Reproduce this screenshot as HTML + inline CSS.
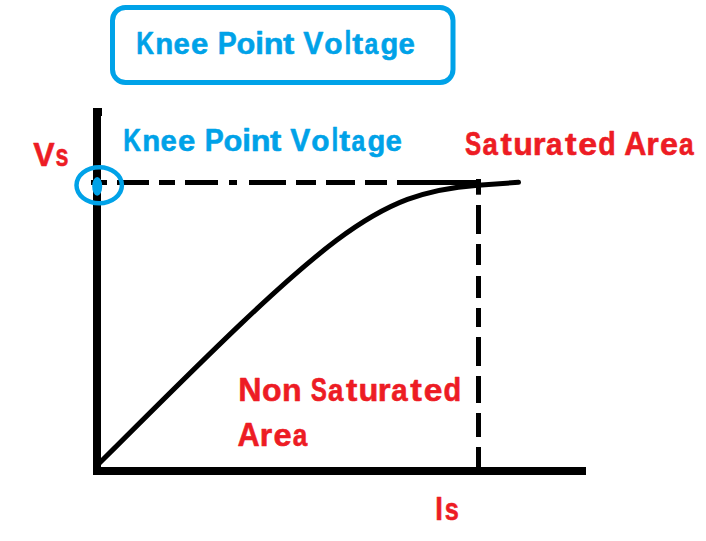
<!DOCTYPE html>
<html><head><meta charset="utf-8">
<style>
html,body{margin:0;padding:0;background:#fff;}
body{width:706px;height:541px;overflow:hidden;}
svg{display:block;}
text{font-family:"Liberation Sans", sans-serif;font-weight:bold;}
</style></head>
<body>
<svg width="706" height="541" viewBox="0 0 706 541">
<rect x="0" y="0" width="706" height="541" fill="#fff"/>
<!-- title box -->
<rect x="112.5" y="7.5" width="340.5" height="75" rx="13" ry="13" fill="none" stroke="#00a2e8" stroke-width="5"/>
<!-- curve -->
<path d="M97.5,465.1 L101,461.6 C329.37,233.23 374.23,192.75 478,185.2 L518.5,182.3" fill="none" stroke="#000" stroke-width="5" stroke-linecap="round"/>
<!-- axes -->
<rect x="93" y="108" width="8" height="367" fill="#000"/>
<rect x="93" y="108" width="9" height="8" fill="#000"/>
<rect x="93" y="467" width="493" height="8" fill="#000"/>
<!-- horizontal dash-dot line -->
<g fill="#000">
<rect x="91" y="180" width="16" height="5"/>
<rect x="117" y="180" width="32" height="5"/>
<rect x="159" y="180" width="16" height="5"/>
<rect x="185" y="180" width="33" height="5"/>
<rect x="229" y="180" width="8" height="5"/>
<rect x="249" y="180" width="37" height="5"/>
<rect x="296" y="180" width="20" height="5"/>
<rect x="326" y="180" width="29" height="5"/>
<rect x="365" y="180" width="22" height="5"/>
<rect x="397" y="180" width="81" height="5"/>
</g>
<!-- vertical dashed line -->
<g fill="#000">
<rect x="476" y="179" width="5" height="15.7"/>
<rect x="476" y="205" width="5" height="29"/>
<rect x="476" y="244" width="5" height="21"/>
<rect x="476" y="276" width="5" height="22"/>
<rect x="476" y="308" width="5" height="19"/>
<rect x="476" y="337" width="5" height="29"/>
<rect x="476" y="376" width="5" height="27"/>
<rect x="476" y="413" width="5" height="24"/>
<rect x="476" y="447" width="5" height="22"/>
</g>
<!-- knee marker -->
<ellipse cx="99.2" cy="185.2" rx="22.7" ry="18" fill="none" stroke="#00a2e8" stroke-width="4.5"/>
<ellipse cx="97.2" cy="186.4" rx="5" ry="9.4" fill="#00a2e8"/>
<!-- labels -->
<text x="136.26" y="54" font-size="32" fill="#00a2e8" stroke="#00a2e8" stroke-width="0.6" stroke-linejoin="round" textLength="17.77" lengthAdjust="spacingAndGlyphs" transform="matrix(1 0 0 0.9760 0 1.302)">K</text>
<text x="155.21" y="54" font-size="32" fill="#00a2e8" stroke="#00a2e8" stroke-width="0.6" stroke-linejoin="round" textLength="17.97" lengthAdjust="spacingAndGlyphs" transform="matrix(1 0 0 0.9190 0 4.396)">n</text>
<text x="173.61" y="54" font-size="32" fill="#00a2e8" stroke="#00a2e8" stroke-width="0.6" stroke-linejoin="round" textLength="16.32" lengthAdjust="spacingAndGlyphs" transform="matrix(1 0 0 0.9190 0 4.396)">e</text>
<text x="191.04" y="54" font-size="32" fill="#00a2e8" stroke="#00a2e8" stroke-width="0.6" stroke-linejoin="round" textLength="17.30" lengthAdjust="spacingAndGlyphs" transform="matrix(1 0 0 0.9190 0 4.396)">e</text>
<text x="217.72" y="54" font-size="32" fill="#00a2e8" stroke="#00a2e8" stroke-width="0.6" stroke-linejoin="round" textLength="18.97" lengthAdjust="spacingAndGlyphs" transform="matrix(1 0 0 0.9760 0 1.302)">P</text>
<text x="236.40" y="54" font-size="32" fill="#00a2e8" stroke="#00a2e8" stroke-width="0.6" stroke-linejoin="round" textLength="18.77" lengthAdjust="spacingAndGlyphs" transform="matrix(1 0 0 0.9190 0 4.396)">o</text>
<text x="255.14" y="54" font-size="32" fill="#00a2e8" stroke="#00a2e8" stroke-width="0.6" stroke-linejoin="round" textLength="8.67" lengthAdjust="spacingAndGlyphs" transform="matrix(1 0 0 0.9730 0 1.465)">i</text>
<text x="263.82" y="54" font-size="32" fill="#00a2e8" stroke="#00a2e8" stroke-width="0.6" stroke-linejoin="round" textLength="19.78" lengthAdjust="spacingAndGlyphs" transform="matrix(1 0 0 0.9190 0 4.396)">n</text>
<text x="283.06" y="54" font-size="32" fill="#00a2e8" stroke="#00a2e8" stroke-width="0.6" stroke-linejoin="round" textLength="11.31" lengthAdjust="spacingAndGlyphs" transform="matrix(1 0 0 0.9260 0 4.016)">t</text>
<text x="303.32" y="54" font-size="32" fill="#00a2e8" stroke="#00a2e8" stroke-width="0.6" stroke-linejoin="round" textLength="20.09" lengthAdjust="spacingAndGlyphs" transform="matrix(1 0 0 0.9760 0 1.302)">V</text>
<text x="324.35" y="54" font-size="32" fill="#00a2e8" stroke="#00a2e8" stroke-width="0.6" stroke-linejoin="round" textLength="18.23" lengthAdjust="spacingAndGlyphs" transform="matrix(1 0 0 0.9190 0 4.396)">o</text>
<text x="344.42" y="54" font-size="32" fill="#00a2e8" stroke="#00a2e8" stroke-width="0.6" stroke-linejoin="round" textLength="6.80" lengthAdjust="spacingAndGlyphs" transform="matrix(1 0 0 1.0200 0 -1.085)">l</text>
<text x="352.22" y="54" font-size="32" fill="#00a2e8" stroke="#00a2e8" stroke-width="0.6" stroke-linejoin="round" textLength="10.88" lengthAdjust="spacingAndGlyphs" transform="matrix(1 0 0 0.9260 0 4.016)">t</text>
<text x="364.62" y="54" font-size="32" fill="#00a2e8" stroke="#00a2e8" stroke-width="0.6" stroke-linejoin="round" textLength="13.74" lengthAdjust="spacingAndGlyphs" transform="matrix(1 0 0 0.9190 0 4.396)">a</text>
<text x="380.56" y="54" font-size="32" fill="#00a2e8" stroke="#00a2e8" stroke-width="0.6" stroke-linejoin="round" textLength="17.81" lengthAdjust="spacingAndGlyphs" transform="matrix(1 0 0 0.9000 0 5.427)">g</text>
<text x="398.61" y="54" font-size="32" fill="#00a2e8" stroke="#00a2e8" stroke-width="0.6" stroke-linejoin="round" textLength="16.32" lengthAdjust="spacingAndGlyphs" transform="matrix(1 0 0 0.9190 0 4.396)">e</text>
<text x="123.26" y="151" font-size="32" fill="#00a2e8" stroke="#00a2e8" stroke-width="0.6" stroke-linejoin="round" textLength="17.77" lengthAdjust="spacingAndGlyphs" transform="matrix(1 0 0 0.9760 0 3.630)">K</text>
<text x="142.21" y="151" font-size="32" fill="#00a2e8" stroke="#00a2e8" stroke-width="0.6" stroke-linejoin="round" textLength="17.97" lengthAdjust="spacingAndGlyphs" transform="matrix(1 0 0 0.9190 0 12.253)">n</text>
<text x="160.61" y="151" font-size="32" fill="#00a2e8" stroke="#00a2e8" stroke-width="0.6" stroke-linejoin="round" textLength="16.32" lengthAdjust="spacingAndGlyphs" transform="matrix(1 0 0 0.9190 0 12.253)">e</text>
<text x="178.04" y="151" font-size="32" fill="#00a2e8" stroke="#00a2e8" stroke-width="0.6" stroke-linejoin="round" textLength="17.30" lengthAdjust="spacingAndGlyphs" transform="matrix(1 0 0 0.9190 0 12.253)">e</text>
<text x="204.72" y="151" font-size="32" fill="#00a2e8" stroke="#00a2e8" stroke-width="0.6" stroke-linejoin="round" textLength="18.97" lengthAdjust="spacingAndGlyphs" transform="matrix(1 0 0 0.9760 0 3.630)">P</text>
<text x="223.40" y="151" font-size="32" fill="#00a2e8" stroke="#00a2e8" stroke-width="0.6" stroke-linejoin="round" textLength="18.77" lengthAdjust="spacingAndGlyphs" transform="matrix(1 0 0 0.9190 0 12.253)">o</text>
<text x="242.14" y="151" font-size="32" fill="#00a2e8" stroke="#00a2e8" stroke-width="0.6" stroke-linejoin="round" textLength="8.67" lengthAdjust="spacingAndGlyphs" transform="matrix(1 0 0 0.9730 0 4.084)">i</text>
<text x="250.82" y="151" font-size="32" fill="#00a2e8" stroke="#00a2e8" stroke-width="0.6" stroke-linejoin="round" textLength="19.78" lengthAdjust="spacingAndGlyphs" transform="matrix(1 0 0 0.9190 0 12.253)">n</text>
<text x="270.06" y="151" font-size="32" fill="#00a2e8" stroke="#00a2e8" stroke-width="0.6" stroke-linejoin="round" textLength="11.31" lengthAdjust="spacingAndGlyphs" transform="matrix(1 0 0 0.9260 0 11.194)">t</text>
<text x="290.32" y="151" font-size="32" fill="#00a2e8" stroke="#00a2e8" stroke-width="0.6" stroke-linejoin="round" textLength="20.09" lengthAdjust="spacingAndGlyphs" transform="matrix(1 0 0 0.9760 0 3.630)">V</text>
<text x="311.35" y="151" font-size="32" fill="#00a2e8" stroke="#00a2e8" stroke-width="0.6" stroke-linejoin="round" textLength="18.23" lengthAdjust="spacingAndGlyphs" transform="matrix(1 0 0 0.9190 0 12.253)">o</text>
<text x="331.42" y="151" font-size="32" fill="#00a2e8" stroke="#00a2e8" stroke-width="0.6" stroke-linejoin="round" textLength="6.80" lengthAdjust="spacingAndGlyphs" transform="matrix(1 0 0 1.0200 0 -3.025)">l</text>
<text x="339.22" y="151" font-size="32" fill="#00a2e8" stroke="#00a2e8" stroke-width="0.6" stroke-linejoin="round" textLength="10.88" lengthAdjust="spacingAndGlyphs" transform="matrix(1 0 0 0.9260 0 11.194)">t</text>
<text x="351.62" y="151" font-size="32" fill="#00a2e8" stroke="#00a2e8" stroke-width="0.6" stroke-linejoin="round" textLength="13.74" lengthAdjust="spacingAndGlyphs" transform="matrix(1 0 0 0.9190 0 12.253)">a</text>
<text x="367.56" y="151" font-size="32" fill="#00a2e8" stroke="#00a2e8" stroke-width="0.6" stroke-linejoin="round" textLength="17.81" lengthAdjust="spacingAndGlyphs" transform="matrix(1 0 0 0.9000 0 15.127)">g</text>
<text x="385.61" y="151" font-size="32" fill="#00a2e8" stroke="#00a2e8" stroke-width="0.6" stroke-linejoin="round" textLength="16.32" lengthAdjust="spacingAndGlyphs" transform="matrix(1 0 0 0.9190 0 12.253)">e</text>
<text x="465.06" y="155" font-size="33.4" fill="#ed1c24" stroke="#ed1c24" stroke-width="0.6" stroke-linejoin="round" textLength="16.16" lengthAdjust="spacingAndGlyphs" transform="matrix(1 0 0 0.9790 0 3.261)">S</text>
<text x="482.51" y="155" font-size="33.4" fill="#ed1c24" stroke="#ed1c24" stroke-width="0.6" stroke-linejoin="round" textLength="15.37" lengthAdjust="spacingAndGlyphs" transform="matrix(1 0 0 0.9430 0 8.850)">a</text>
<text x="500.56" y="155" font-size="33.4" fill="#ed1c24" stroke="#ed1c24" stroke-width="0.6" stroke-linejoin="round" textLength="11.34" lengthAdjust="spacingAndGlyphs" transform="matrix(1 0 0 0.9330 0 10.403)">t</text>
<text x="513.30" y="155" font-size="33.4" fill="#ed1c24" stroke="#ed1c24" stroke-width="0.6" stroke-linejoin="round" textLength="19.64" lengthAdjust="spacingAndGlyphs" transform="matrix(1 0 0 0.9430 0 8.850)">u</text>
<text x="532.66" y="155" font-size="33.4" fill="#ed1c24" stroke="#ed1c24" stroke-width="0.6" stroke-linejoin="round" textLength="12.80" lengthAdjust="spacingAndGlyphs" transform="matrix(1 0 0 0.9430 0 8.850)">r</text>
<text x="545.95" y="155" font-size="33.4" fill="#ed1c24" stroke="#ed1c24" stroke-width="0.6" stroke-linejoin="round" textLength="16.48" lengthAdjust="spacingAndGlyphs" transform="matrix(1 0 0 0.9430 0 8.850)">a</text>
<text x="564.88" y="155" font-size="33.4" fill="#ed1c24" stroke="#ed1c24" stroke-width="0.6" stroke-linejoin="round" textLength="11.60" lengthAdjust="spacingAndGlyphs" transform="matrix(1 0 0 0.9330 0 10.403)">t</text>
<text x="578.34" y="155" font-size="33.4" fill="#ed1c24" stroke="#ed1c24" stroke-width="0.6" stroke-linejoin="round" textLength="18.91" lengthAdjust="spacingAndGlyphs" transform="matrix(1 0 0 0.9430 0 8.850)">e</text>
<text x="598.18" y="155" font-size="33.4" fill="#ed1c24" stroke="#ed1c24" stroke-width="0.6" stroke-linejoin="round" textLength="17.48" lengthAdjust="spacingAndGlyphs" transform="matrix(1 0 0 1.0200 0 -3.105)">d</text>
<text x="624.14" y="155" font-size="33.4" fill="#ed1c24" stroke="#ed1c24" stroke-width="0.6" stroke-linejoin="round" textLength="22.17" lengthAdjust="spacingAndGlyphs" transform="matrix(1 0 0 0.9790 0 3.261)">A</text>
<text x="646.13" y="155" font-size="33.4" fill="#ed1c24" stroke="#ed1c24" stroke-width="0.6" stroke-linejoin="round" textLength="12.53" lengthAdjust="spacingAndGlyphs" transform="matrix(1 0 0 0.9430 0 8.850)">r</text>
<text x="660.11" y="155" font-size="33.4" fill="#ed1c24" stroke="#ed1c24" stroke-width="0.6" stroke-linejoin="round" textLength="17.97" lengthAdjust="spacingAndGlyphs" transform="matrix(1 0 0 0.9430 0 8.850)">e</text>
<text x="679.11" y="155" font-size="33.4" fill="#ed1c24" stroke="#ed1c24" stroke-width="0.6" stroke-linejoin="round" textLength="14.69" lengthAdjust="spacingAndGlyphs" transform="matrix(1 0 0 0.9430 0 8.850)">a</text>
<text x="238.26" y="401" font-size="33.4" fill="#ed1c24" stroke="#ed1c24" stroke-width="0.6" stroke-linejoin="round" textLength="23.27" lengthAdjust="spacingAndGlyphs" transform="matrix(1 0 0 0.9790 0 8.427)">N</text>
<text x="262.04" y="401" font-size="33.4" fill="#ed1c24" stroke="#ed1c24" stroke-width="0.6" stroke-linejoin="round" textLength="19.56" lengthAdjust="spacingAndGlyphs" transform="matrix(1 0 0 0.9430 0 22.872)">o</text>
<text x="282.03" y="401" font-size="33.4" fill="#ed1c24" stroke="#ed1c24" stroke-width="0.6" stroke-linejoin="round" textLength="19.66" lengthAdjust="spacingAndGlyphs" transform="matrix(1 0 0 0.9430 0 22.872)">n</text>
<text x="310.69" y="401" font-size="33.4" fill="#ed1c24" stroke="#ed1c24" stroke-width="0.6" stroke-linejoin="round" textLength="16.15" lengthAdjust="spacingAndGlyphs" transform="matrix(1 0 0 0.9790 0 8.427)">S</text>
<text x="327.90" y="401" font-size="33.4" fill="#ed1c24" stroke="#ed1c24" stroke-width="0.6" stroke-linejoin="round" textLength="15.39" lengthAdjust="spacingAndGlyphs" transform="matrix(1 0 0 0.9430 0 22.872)">a</text>
<text x="345.95" y="401" font-size="33.4" fill="#ed1c24" stroke="#ed1c24" stroke-width="0.6" stroke-linejoin="round" textLength="11.34" lengthAdjust="spacingAndGlyphs" transform="matrix(1 0 0 0.9330 0 26.885)">t</text>
<text x="358.38" y="401" font-size="33.4" fill="#ed1c24" stroke="#ed1c24" stroke-width="0.6" stroke-linejoin="round" textLength="19.86" lengthAdjust="spacingAndGlyphs" transform="matrix(1 0 0 0.9430 0 22.872)">u</text>
<text x="377.86" y="401" font-size="33.4" fill="#ed1c24" stroke="#ed1c24" stroke-width="0.6" stroke-linejoin="round" textLength="12.84" lengthAdjust="spacingAndGlyphs" transform="matrix(1 0 0 0.9430 0 22.872)">r</text>
<text x="391.36" y="401" font-size="33.4" fill="#ed1c24" stroke="#ed1c24" stroke-width="0.6" stroke-linejoin="round" textLength="16.42" lengthAdjust="spacingAndGlyphs" transform="matrix(1 0 0 0.9430 0 22.872)">a</text>
<text x="410.17" y="401" font-size="33.4" fill="#ed1c24" stroke="#ed1c24" stroke-width="0.6" stroke-linejoin="round" textLength="11.61" lengthAdjust="spacingAndGlyphs" transform="matrix(1 0 0 0.9330 0 26.885)">t</text>
<text x="423.73" y="401" font-size="33.4" fill="#ed1c24" stroke="#ed1c24" stroke-width="0.6" stroke-linejoin="round" textLength="18.69" lengthAdjust="spacingAndGlyphs" transform="matrix(1 0 0 0.9430 0 22.872)">e</text>
<text x="443.40" y="401" font-size="33.4" fill="#ed1c24" stroke="#ed1c24" stroke-width="0.6" stroke-linejoin="round" textLength="17.72" lengthAdjust="spacingAndGlyphs" transform="matrix(1 0 0 1.0200 0 -8.025)">d</text>
<text x="237.58" y="445.5" font-size="33.4" fill="#ed1c24" stroke="#ed1c24" stroke-width="0.6" stroke-linejoin="round" textLength="22.18" lengthAdjust="spacingAndGlyphs" transform="matrix(1 0 0 0.9790 0 9.361)">A</text>
<text x="259.79" y="445.5" font-size="33.4" fill="#ed1c24" stroke="#ed1c24" stroke-width="0.6" stroke-linejoin="round" textLength="12.44" lengthAdjust="spacingAndGlyphs" transform="matrix(1 0 0 0.9430 0 25.409)">r</text>
<text x="273.59" y="445.5" font-size="33.4" fill="#ed1c24" stroke="#ed1c24" stroke-width="0.6" stroke-linejoin="round" textLength="18.15" lengthAdjust="spacingAndGlyphs" transform="matrix(1 0 0 0.9430 0 25.409)">e</text>
<text x="292.75" y="445.5" font-size="33.4" fill="#ed1c24" stroke="#ed1c24" stroke-width="0.6" stroke-linejoin="round" textLength="14.56" lengthAdjust="spacingAndGlyphs" transform="matrix(1 0 0 0.9430 0 25.409)">a</text>
<text x="33.30" y="166" font-size="33.4" fill="#ed1c24" stroke="#ed1c24" stroke-width="0.6" stroke-linejoin="round" textLength="21.41" lengthAdjust="spacingAndGlyphs" transform="matrix(1 0 0 0.9790 0 3.492)">V</text>
<text x="55.54" y="166" font-size="33.4" fill="#ed1c24" stroke="#ed1c24" stroke-width="0.6" stroke-linejoin="round" textLength="13.00" lengthAdjust="spacingAndGlyphs" transform="matrix(1 0 0 0.9430 0 9.477)">s</text>
<text x="435.26" y="520" font-size="33.4" fill="#ed1c24" stroke="#ed1c24" stroke-width="0.6" stroke-linejoin="round" textLength="7.64" lengthAdjust="spacingAndGlyphs" transform="matrix(1 0 0 0.9790 0 10.926)">I</text>
<text x="444.78" y="520" font-size="33.4" fill="#ed1c24" stroke="#ed1c24" stroke-width="0.6" stroke-linejoin="round" textLength="14.10" lengthAdjust="spacingAndGlyphs" transform="matrix(1 0 0 0.9430 0 29.655)">s</text>
</svg>
</body></html>
